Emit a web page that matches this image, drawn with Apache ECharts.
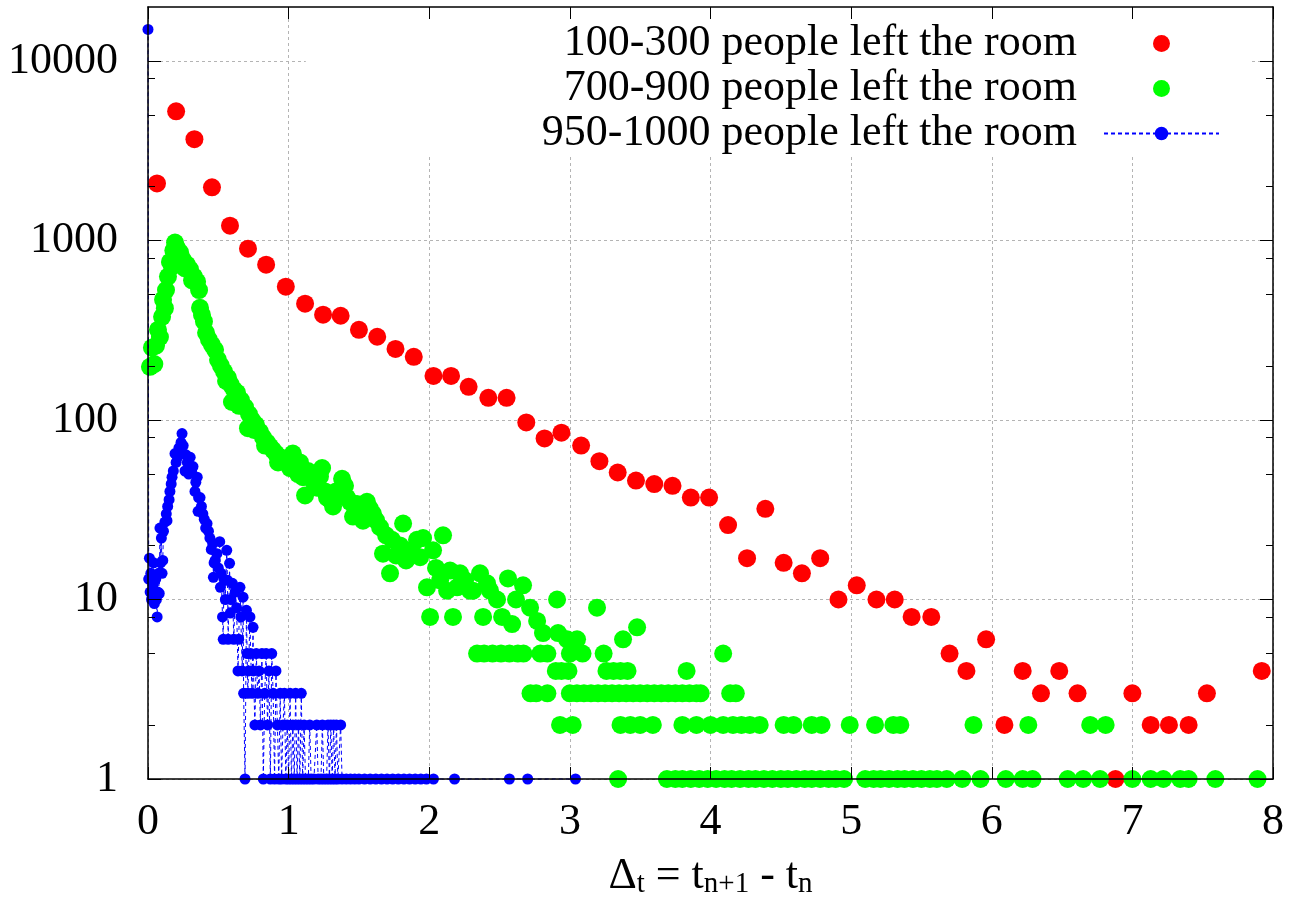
<!DOCTYPE html>
<html><head><meta charset="utf-8">
<script src="https://cdn.jsdelivr.net/npm/echarts@6/dist/echarts.min.js"></script>
<style>html,body{margin:0;padding:0;background:#fff}#c{width:1290px;height:913px}</style>
</head><body><div id="c"></div>
<script>
const seriesNames = ['100-300 people left the room', '700-900 people left the room', '950-1000 people left the room'];
const yMajorTicks = [1, 10, 100, 1000, 10000];
const yMinorTicks = [2, 5, 8, 20, 50, 80, 200, 500, 800, 2000, 5000, 8000];

const redPoints = [[0.064,2080],[0.2,5250],[0.33,3670],[0.455,1980],[0.583,1210],[0.711,900],[0.84,734],[0.98,553],[1.117,445],[1.245,386],[1.37,381],[1.5,318],[1.63,291],[1.76,249],[1.89,225],[2.03,176],[2.155,176],[2.28,153],[2.42,133],[2.55,133],[2.69,97],[2.82,79],[2.94,85],[3.08,72],[3.21,59],[3.34,51],[3.47,46],[3.6,44],[3.73,43],[3.86,37],[3.99,37],[4.125,26],[4.26,17],[4.39,32],[4.52,16],[4.65,14],[4.78,17],[4.91,10],[5.04,12],[5.18,10],[5.31,10],[5.43,8],[5.57,8],[5.7,5],[5.82,4],[5.96,6],[6.09,2],[6.22,4],[6.35,3],[6.48,4],[6.61,3],[6.88,1],[7.0,3],[7.13,2],[7.26,2],[7.4,2],[7.53,3],[7.92,4]];

const greenPoints = [[0.014,198],[0.028,253],[0.045,205],[0.057,260],[0.071,318],[0.085,290],[0.1,376],[0.107,468],[0.12,420],[0.128,530],[0.142,630],[0.156,760],[0.171,716],[0.18,880],[0.192,975],[0.206,910],[0.228,860],[0.249,780],[0.263,700],[0.277,735],[0.299,690],[0.313,600],[0.327,630],[0.349,590],[0.363,530],[0.37,422],[0.384,385],[0.398,354],[0.413,306],[0.434,280],[0.455,262],[0.477,246],[0.498,216],[0.519,200],[0.541,186],[0.555,165],[0.569,172],[0.59,157],[0.597,126],[0.612,147],[0.633,142],[0.647,120],[0.661,129],[0.69,118],[0.711,90],[0.718,108],[0.74,100],[0.754,88],[0.768,94],[0.797,86],[0.818,80],[0.832,72],[0.846,75],[0.868,71],[0.889,68],[0.91,65],[0.925,58],[0.939,62],[0.967,61],[0.989,59],[1.01,54],[1.03,65],[1.053,56],[1.067,50],[1.081,58],[1.102,48],[1.117,38],[1.138,52],[1.159,48],[1.18,45],[1.202,42],[1.223,48.5],[1.238,54],[1.259,40],[1.273,37],[1.294,36],[1.316,33],[1.337,40],[1.358,37.5],[1.38,47],[1.401,43],[1.415,37],[1.437,35],[1.458,29],[1.486,34],[1.508,30],[1.529,27.5],[1.557,35],[1.579,32],[1.6,30],[1.622,27.6],[1.65,25.3],[1.671,18],[1.693,22.8],[1.721,14],[1.735,21.5],[1.764,17.6],[1.792,20],[1.814,26.5],[1.835,16.5],[1.863,18.8],[1.885,18],[1.913,21.5],[1.935,17.2],[1.956,22],[1.984,11.7],[2.006,8],[2.027,18.8],[2.048,15],[2.077,12.8],[2.098,22.8],[2.127,11.2],[2.148,14.5],[2.169,8],[2.198,11.7],[2.219,14],[2.255,12.8],[2.29,11.2],[2.312,11.2],[2.361,14],[2.383,8],[2.411,12.3],[2.432,11.2],[2.482,10],[2.518,8],[2.56,13.1],[2.589,7.3],[2.617,10],[2.667,12],[2.717,9],[2.767,7.6],[2.809,6.5],[2.909,10],[2.916,6.5],[2.98,6],[3.051,6],[3.193,9],[3.378,6],[3.478,7],
[2.34,5],[2.39,5],[2.45,5],[2.51,5],[2.57,5],[2.63,5],[2.67,5],[2.79,5],[2.84,5],[3.0,5],[3.09,5],[3.24,5],[4.09,5],
[2.9,4],[2.94,4],[2.99,4],[3.26,4],[3.31,4],[3.36,4],[3.41,4],[3.83,4],
[2.72,3],[2.76,3],[2.84,3],[3.0,3],[3.05,3],[3.1,3],[3.15,3],[3.2,3],[3.25,3],[3.3,3],[3.35,3],[3.4,3],[3.45,3],[3.5,3],[3.55,3],[3.6,3],[3.65,3],[3.7,3],[3.75,3],[3.8,3],[3.85,3],[3.9,3],[3.93,3],[4.14,3],[4.18,3],
[2.93,2],[3.02,2],[3.36,2],[3.43,2],[3.5,2],[3.59,2],[3.8,2],[3.9,2],[4.0,2],[4.09,2],[4.16,2],[4.22,2],[4.28,2],[4.35,2],[4.52,2],[4.59,2],[4.72,2],[4.79,2],[4.99,2],[5.17,2],[5.3,2],[5.35,2],[5.87,2],[6.26,2],[6.7,2],[6.81,2],
[3.343,1],[3.69,1],[3.75,1],[3.8,1],[3.86,1],[3.92,1],[3.98,1],[4.04,1],[4.1,1],[4.15,1],[4.21,1],[4.27,1],[4.32,1],[4.38,1],[4.44,1],[4.5,1],[4.55,1],[4.61,1],[4.67,1],[4.72,1],[4.78,1],[4.84,1],[4.89,1],[4.95,1],[5.1,1],[5.16,1],[5.21,1],[5.27,1],[5.33,1],[5.38,1],[5.44,1],[5.5,1],[5.56,1],[5.61,1],[5.68,1],[5.79,1],[5.92,1],[6.1,1],[6.22,1],[6.29,1],[6.54,1],[6.65,1],[6.77,1],[7.0,1],[7.13,1],[7.22,1],[7.34,1],[7.4,1],[7.59,1],[7.89,1]];

const bluePoints = [[0,15000],[0.005,13],[0.01,17],[0.015,11],[0.02,14],[0.025,10],[0.03,13],[0.035,12],[0.04,16],[0.045,9.5],[0.05,11],[0.055,13],[0.06,10],[0.065,8],[0.07,11],[0.075,14],[0.08,10.8],[0.085,25],[0.09,16],[0.095,22],[0.1,14],[0.105,16.5],[0.11,24],[0.12,27],[0.13,30],[0.135,27.5],[0.14,33],[0.15,36],[0.156,40],[0.165,44],[0.171,48],[0.18,52],[0.192,65],[0.2,58],[0.21,62],[0.22,70],[0.228,68],[0.235,75],[0.242,84],[0.25,72],[0.263,52],[0.27,64],[0.28,58],[0.29,50],[0.3,62],[0.31,52],[0.32,55],[0.334,40],[0.34,45],[0.35,48],[0.356,31],[0.36,37],[0.37,37],[0.38,33],[0.39,30],[0.4,28],[0.41,25],[0.42,26.5],[0.43,24],[0.44,22],[0.45,19],[0.46,20.5],[0.465,13.3],[0.47,16],[0.477,16.5],[0.49,18],[0.5,15],[0.51,21],[0.515,11.7],[0.52,14],[0.53,8],[0.535,6],[0.54,13],[0.55,10],[0.56,18.8],[0.565,12.8],[0.57,6],[0.58,15.9],[0.585,8.4],[0.59,10],[0.6,12.3],[0.61,6],[0.62,11],[0.63,9],[0.64,4],[0.645,6],[0.654,11.7],[0.66,8],[0.67,4],[0.676,10.3],[0.68,3],[0.69,1],[0.7,8.7],[0.705,5],[0.71,3],[0.715,4],[0.725,8],[0.73,5],[0.74,3],[0.747,7],[0.75,4],[0.76,2],[0.77,5],[0.78,3],[0.79,4],[0.8,2],[0.81,5],[0.82,1],[0.83,3],[0.84,5],[0.85,2],[0.86,4],[0.87,1],[0.88,5],[0.89,3],[0.9,1],[0.91,4],[0.92,2],[0.93,1],[0.94,3],[0.95,1],[0.96,2],[0.97,3],[0.98,1],[0.99,2],[1.0,1],[1.01,3],[1.02,1],[1.03,2],[1.04,1],[1.05,3],[1.06,1],[1.07,2],[1.08,1],[1.09,3],[1.1,1],[1.11,2],[1.12,1],[1.14,1],[1.15,2],[1.16,1],[1.18,1],[1.2,2],[1.21,1],[1.23,1],[1.24,2],[1.25,1],[1.27,1],[1.28,2],[1.29,1],[1.3,2],[1.31,1],[1.32,2],[1.33,1],[1.34,2],[1.35,1],[1.37,2],[1.38,1],[1.41,1],[1.44,1],[1.47,1],[1.5,1],[1.54,1],[1.58,1],[1.62,1],[1.66,1],[1.7,1],[1.74,1],[1.78,1],[1.82,1],[1.86,1],[1.9,1],[1.94,1],[1.98,1],[2.03,1],[2.18,1],[2.57,1],[2.7,1],[3.04,1]];

const F = 'Liberation Serif';
const FS = 44;
const chart = echarts.init(document.getElementById('c'), null, {renderer: 'canvas'});

function borderX(pos) {
  return {type: 'value', min: 0, max: 8, interval: 1, position: pos, z: 10,
    axisLine: {show: true, onZero: false, lineStyle: {color: '#000', width: 1.5}},
    axisTick: {show: true, inside: true, length: 12, lineStyle: {color: '#000', width: 1}},
    axisLabel: {show: false}, splitLine: {show: false}};
}
function logY(pos, ticks, len, line) {
  return {type: 'log', logBase: 10, min: 1, max: 20000, position: pos, z: 10,
    axisLine: {show: line, onZero: false, lineStyle: {color: '#000', width: 1.5}},
    axisTick: {show: true, inside: true, length: len, customValues: ticks, lineStyle: {color: '#000', width: 1}},
    axisLabel: {show: false}, splitLine: {show: false}, minorTick: {show: false}};
}

const option = {
  animation: false,
  backgroundColor: '#fff',
  textStyle: {fontFamily: F},
  grid: {left: 148, right: 17, top: 7, bottom: 134, containLabel: false, outerBoundsMode: 'none'},
  legend: {
    show: true, orient: 'vertical', right: 40, top: 7, align: 'right',
    itemWidth: 115, itemHeight: 17, itemGap: 0,
    padding: [14, 30, 0, 236], backgroundColor: '#fff', z: 4,
    selectedMode: false,
    formatter: n => n + '  ',
    textStyle: {fontFamily: F, fontSize: FS, color: '#000', lineHeight: 45},
    data: seriesNames
  },
  xAxis: [
    {type: 'value', min: 0, max: 8, interval: 1, position: 'bottom', z: 0,
     axisLine: {show: false}, axisTick: {show: false},
     axisLabel: {fontFamily: F, fontSize: FS, color: '#000', margin: 21},
     splitLine: {show: true, lineStyle: {color: '#b4b4b4', width: 1, type: [3, 3]}},
     name: '{a|Δ}{s|t}{a| = t}{s|n+1}{a| - t}{s|n}',
     nameLocation: 'middle', nameGap: 75,
     nameTextStyle: {fontFamily: F, fontSize: FS, color: '#000',
       rich: {
         a: {fontFamily: F, fontSize: FS, lineHeight: 44, verticalAlign: 'top', color: '#000'},
         s: {fontFamily: F, fontSize: 29, lineHeight: 29, padding: [21, 0, 0, 0], verticalAlign: 'bottom', color: '#000'}
       }}},
    borderX('bottom'),
    borderX('top')
  ],
  yAxis: [
    {type: 'log', logBase: 10, min: 1, max: 20000, position: 'left', z: 0,
     axisLine: {show: false}, axisTick: {show: false, customValues: yMajorTicks},
     axisLabel: {fontFamily: F, fontSize: FS, color: '#000', margin: 30, customValues: yMajorTicks,
       formatter: v => { const r = Math.round(v); return yMajorTicks.indexOf(r) >= 0 ? String(r) : ''; }},
     splitLine: {show: true, lineStyle: {color: '#b4b4b4', width: 1, type: [3, 3]}}},
    logY('left', yMajorTicks, 13, true),
    logY('left', yMinorTicks, 7, false),
    logY('right', yMajorTicks, 13, true),
    logY('right', yMinorTicks, 7, false)
  ],
  series: [
    {name: seriesNames[0], type: 'scatter', data: redPoints, symbol: 'circle', symbolSize: 18,
     itemStyle: {color: '#ff0000', opacity: 1}, clip: false, z: 2},
    {name: seriesNames[1], type: 'scatter', data: greenPoints, symbol: 'circle', symbolSize: 18,
     itemStyle: {color: '#00ff00', opacity: 1}, clip: false, z: 2},
    {name: seriesNames[2], type: 'line', data: bluePoints, symbol: 'circle', symbolSize: 11, showSymbol: true,
     itemStyle: {color: '#0000ff', opacity: 1}, lineStyle: {color: '#0000ff', width: 1, type: [4, 3]}, clip: false, z: 3}
  ]
};
chart.setOption(option);
</script>
</body></html>
